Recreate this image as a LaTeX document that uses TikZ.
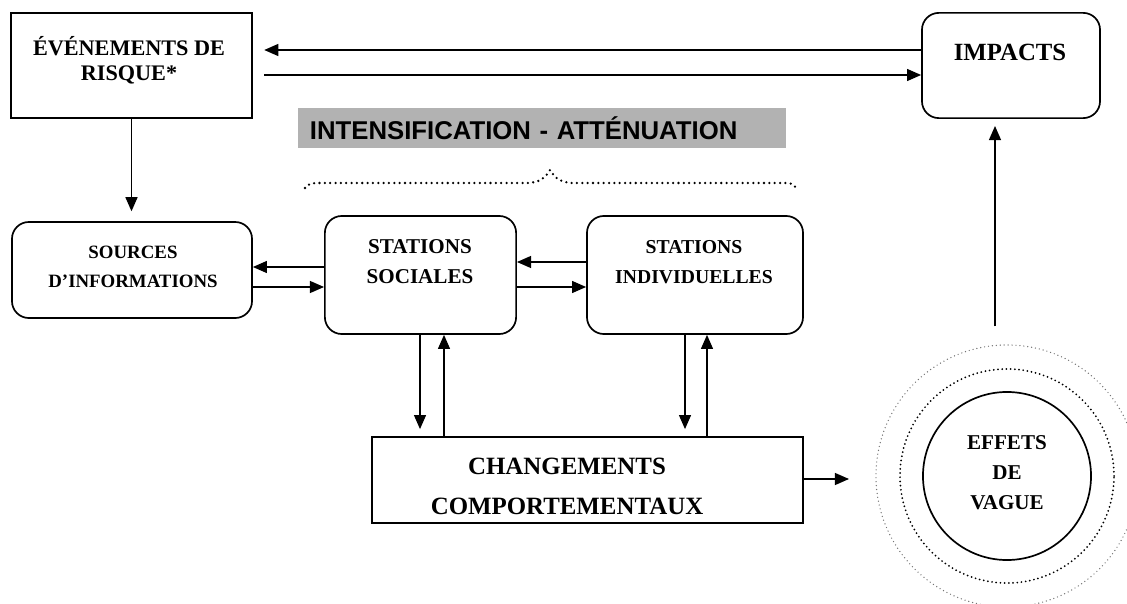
\documentclass[tikz,border=0pt]{standalone}
\usepackage{fontspec}
\setmainfont{Liberation Serif}
\setsansfont{Liberation Sans}
\usetikzlibrary{arrows.meta}
\newcommand{\boxfont}[2]{\fontsize{#1}{#2}\selectfont\bfseries}
\tikzstyle{box} = [draw=black, line width=1.2pt, inner sep=0pt]
\tikzstyle{roundbox} = [box, rounded corners=12pt]
\tikzstyle{lbl} = [align=center, inner sep=0pt, text=black]
\tikzstyle{band} = [
	fill=black!30,
	minimum height=1cm,
	text width=11.6cm,
	inner xsep=0.3cm,
	align=left,
	font=\sffamily\boxfont{18.3}{20}
]
\tikzstyle{arrow} = [line width=1pt, -{Triangle[length=10pt,width=8.5pt]}]
\tikzstyle{dotline} = [line width=1.8pt, line cap=round, dash pattern=on 0pt off 3.8pt]

\begin{document}
\begin{tikzpicture}[x=0.025cm, y=-0.025cm]
    \useasboundingbox (0,0) rectangle (1127,604);
    % boxes
    \node[box, minimum width=6.03cm, minimum height=2.63cm] (even) at (131.5,65.5) {};
    \node[roundbox, minimum width=4.45cm, minimum height=2.63cm] (impacts) at (1011,65.5) {};
    \node[roundbox, minimum width=6cm, minimum height=2.4cm] (sources) at (132,270) {};
    \node[roundbox, minimum width=4.78cm, minimum height=2.95cm] (socl) at (420.5,275) {};
    \node[roundbox, minimum width=5.4cm, minimum height=2.95cm] (indiv) at (695,275) {};
    \node[box, minimum width=10.78cm, minimum height=2.15cm] (chg) at (587.5,480) {};
    \node[circle, draw, line width=1.2pt, minimum size=4.2cm, inner sep=0pt] (wave) at (1007,476) {};
    \draw[dotline, line width=1.4pt, dash pattern=on 0pt off 3pt] (wave.center) circle (2.675cm);
    \draw[black!55, line width=1pt, line cap=round, dash pattern=on 0pt off 2.8pt] (wave.center) circle (3.275cm);
    % banner and brace
    \node[band] (band) at (542,128) {INTENSIFICATION - ATTÉNUATION};
    \draw[dotline] (305,188) .. controls (310,183) .. (323,183) -- (525,183)
      .. controls (540,183) and (545,178) .. (550,170)
      .. controls (555,178) and (560,183) .. (575,183) -- (782,183)
      .. controls (792,183) .. (797,189);
    % texts
    \node[lbl, font=\boxfont{15.8}{17.8}] (evenTxt) at (129,60) {ÉVÉNEMENTS DE\\RISQUE*};
    \node[lbl, font=\boxfont{17.6}{20}] (impactsTxt) at (1010,52) {IMPACTS};
    \node[lbl, font=\boxfont{13.4}{20.6}] (sourcesTxt) at (133,267) {SOURCES\\D’INFORMATIONS};
    \node[lbl, font=\boxfont{15}{21.3}] (soclTxt) at (420,262) {STATIONS\\SOCIALES};
    \node[lbl, font=\boxfont{14}{21.3}] (indivTxt) at (694,262) {STATIONS\\INDIVIDUELLES};
    \node[lbl, font=\boxfont{17.7}{28.5}] (chgTxt) at (567,486) {CHANGEMENTS\\COMPORTEMENTAUX};
    \node[lbl, font=\boxfont{15}{21.3}] (waveTxt) at (1007,473) {EFFETS\\DE\\VAGUE};
    % arrows
    \draw[arrow, shorten >=8pt] (impacts.west |- 0,50) -- (even.east |- 0,50);
    \draw[arrow, shorten <=8pt] (even.east |- 0,75) -- (impacts.west |- 0,75);
    \draw[arrow, shorten >=7pt] (even.south) -- (even.south |- sources.north);
    \draw[arrow] (socl.west |- 0,267) -- (sources.east |- 0,267);
    \draw[arrow] (sources.east |- 0,287) -- (socl.west |- 0,287);
    \draw[arrow] (indiv.west |- 0,262) -- (socl.east |- 0,262);
    \draw[arrow] (socl.east |- 0,287) -- (indiv.west |- 0,287);
    \draw[arrow, shorten >=5pt] (socl.south -| 420,0) -- (chg.north -| 420,0);
    \draw[arrow] (chg.north -| 444,0) -- (socl.south -| 444,0);
    \draw[arrow, shorten >=5pt] (indiv.south -| 685,0) -- (chg.north -| 685,0);
    \draw[arrow] (chg.north -| 707,0) -- (indiv.south -| 707,0);
    \draw[arrow, shorten >=52pt] (chg.east |- 0,479) -- (wave.west |- 0,479);
    \draw[arrow, shorten <=46pt, shorten >=5pt] (wave.north -| 995,0) -- (impacts.south -| 995,0);
\end{tikzpicture}
\end{document}
